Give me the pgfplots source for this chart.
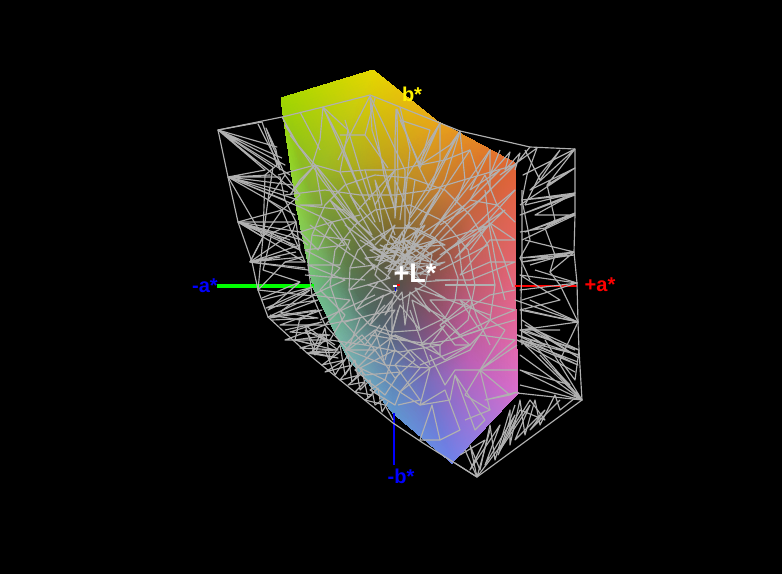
\documentclass[border=0pt]{standalone}
\usepackage{pgfplots}
\pgfplotsset{compat=1.18}
\usepackage{fontspec}
\setmainfont{Liberation Sans}
\definecolor{wire}{RGB}{176,176,176}
\pgfplotsset{w/.style={draw=wire,line width=1.15pt,no marks,line join=round,forget plot}}
\begin{document}
\begin{tikzpicture}
\begin{axis}[
 scale only axis,width=782pt,height=574pt,xmin=0,xmax=782,ymin=0,ymax=574,y dir=reverse,
 axis lines=none,clip=true]
\addplot[fill=black,draw=none,forget plot] coordinates {(0,0)(782,0)(782,574)(0,574)} -- cycle;
% solid gamut
\addplot[patch,shader=interp,mesh/color input=explicit,forget plot] table[meta=c] {
x y c
281 98 rgb255=160,215,0
373 70 rgb255=230,215,0
320 170 rgb255=150,185,35
373 70 rgb255=230,215,0
380 160 rgb255=190,165,25
320 170 rgb255=150,185,35
373 70 rgb255=230,215,0
437 121 rgb255=232,165,25
380 160 rgb255=190,165,25
437 121 rgb255=232,165,25
425 180 rgb255=195,135,40
380 160 rgb255=190,165,25
437 121 rgb255=232,165,25
515 163 rgb255=225,100,50
425 180 rgb255=195,135,40
515 163 rgb255=225,100,50
468 215 rgb255=195,100,65
425 180 rgb255=195,135,40
515 163 rgb255=225,100,50
515 270 rgb255=228,100,115
468 215 rgb255=195,100,65
515 270 rgb255=228,100,115
470 275 rgb255=190,90,100
468 215 rgb255=195,100,65
515 270 rgb255=228,100,115
517 350 rgb255=225,105,175
470 275 rgb255=190,90,100
517 350 rgb255=225,105,175
465 325 rgb255=185,90,150
470 275 rgb255=190,90,100
517 350 rgb255=225,105,175
518 393 rgb255=215,110,205
465 325 rgb255=185,90,150
518 393 rgb255=215,110,205
470 360 rgb255=190,95,180
465 325 rgb255=185,90,150
518 393 rgb255=215,110,205
452 463 rgb255=110,130,235
470 360 rgb255=190,95,180
452 463 rgb255=110,130,235
425 385 rgb255=115,110,190
470 360 rgb255=190,95,180
452 463 rgb255=110,130,235
393 413 rgb255=95,150,205
425 385 rgb255=115,110,190
393 413 rgb255=95,150,205
393 360 rgb255=95,120,165
425 385 rgb255=115,110,190
393 413 rgb255=95,150,205
347 357 rgb255=120,180,175
393 360 rgb255=95,120,165
347 357 rgb255=120,180,175
360 330 rgb255=100,145,140
393 360 rgb255=95,120,165
347 357 rgb255=120,180,175
313 287 rgb255=110,190,130
360 330 rgb255=100,145,140
313 287 rgb255=110,190,130
335 285 rgb255=100,155,115
360 330 rgb255=100,145,140
313 287 rgb255=110,190,130
297 210 rgb255=140,210,70
335 285 rgb255=100,155,115
297 210 rgb255=140,210,70
325 240 rgb255=115,160,75
335 285 rgb255=100,155,115
297 210 rgb255=140,210,70
283 115 rgb255=155,215,10
325 240 rgb255=115,160,75
283 115 rgb255=155,215,10
310 190 rgb255=135,175,50
325 240 rgb255=115,160,75
283 115 rgb255=155,215,10
281 98 rgb255=160,215,0
310 190 rgb255=135,175,50
281 98 rgb255=160,215,0
320 170 rgb255=150,185,35
310 190 rgb255=135,175,50
320 170 rgb255=150,185,35
380 160 rgb255=190,165,25
365 250 rgb255=95,105,65
380 160 rgb255=190,165,25
392 235 rgb255=120,100,50
365 250 rgb255=95,105,65
380 160 rgb255=190,165,25
425 180 rgb255=195,135,40
392 235 rgb255=120,100,50
425 180 rgb255=195,135,40
415 240 rgb255=135,100,55
392 235 rgb255=120,100,50
425 180 rgb255=195,135,40
468 215 rgb255=195,100,65
415 240 rgb255=135,100,55
468 215 rgb255=195,100,65
440 255 rgb255=145,85,65
415 240 rgb255=135,100,55
468 215 rgb255=195,100,65
470 275 rgb255=190,90,100
440 255 rgb255=145,85,65
470 275 rgb255=190,90,100
442 285 rgb255=150,80,90
440 255 rgb255=145,85,65
470 275 rgb255=190,90,100
465 325 rgb255=185,90,150
442 285 rgb255=150,80,90
465 325 rgb255=185,90,150
435 315 rgb255=140,80,110
442 285 rgb255=150,80,90
465 325 rgb255=185,90,150
470 360 rgb255=190,95,180
435 315 rgb255=140,80,110
470 360 rgb255=190,95,180
425 335 rgb255=125,85,130
435 315 rgb255=140,80,110
470 360 rgb255=190,95,180
425 385 rgb255=115,110,190
425 335 rgb255=125,85,130
425 385 rgb255=115,110,190
405 335 rgb255=100,90,125
425 335 rgb255=125,85,130
425 385 rgb255=115,110,190
393 360 rgb255=95,120,165
405 335 rgb255=100,90,125
393 360 rgb255=95,120,165
390 330 rgb255=85,95,115
405 335 rgb255=100,90,125
393 360 rgb255=95,120,165
360 330 rgb255=100,145,140
390 330 rgb255=85,95,115
360 330 rgb255=100,145,140
370 315 rgb255=80,105,100
390 330 rgb255=85,95,115
360 330 rgb255=100,145,140
335 285 rgb255=100,155,115
370 315 rgb255=80,105,100
335 285 rgb255=100,155,115
355 290 rgb255=85,115,90
370 315 rgb255=80,105,100
335 285 rgb255=100,155,115
325 240 rgb255=115,160,75
355 290 rgb255=85,115,90
325 240 rgb255=115,160,75
350 270 rgb255=90,120,75
355 290 rgb255=85,115,90
325 240 rgb255=115,160,75
310 190 rgb255=135,175,50
350 270 rgb255=90,120,75
310 190 rgb255=135,175,50
355 255 rgb255=95,115,65
350 270 rgb255=90,120,75
310 190 rgb255=135,175,50
320 170 rgb255=150,185,35
355 255 rgb255=95,115,65
320 170 rgb255=150,185,35
365 250 rgb255=95,105,65
355 255 rgb255=95,115,65
365 250 rgb255=95,105,65
392 235 rgb255=120,100,50
397 285 rgb255=85,80,75
392 235 rgb255=120,100,50
415 240 rgb255=135,100,55
397 285 rgb255=85,80,75
415 240 rgb255=135,100,55
440 255 rgb255=145,85,65
397 285 rgb255=85,80,75
440 255 rgb255=145,85,65
442 285 rgb255=150,80,90
397 285 rgb255=85,80,75
442 285 rgb255=150,80,90
435 315 rgb255=140,80,110
397 285 rgb255=85,80,75
435 315 rgb255=140,80,110
425 335 rgb255=125,85,130
397 285 rgb255=85,80,75
425 335 rgb255=125,85,130
405 335 rgb255=100,90,125
397 285 rgb255=85,80,75
405 335 rgb255=100,90,125
390 330 rgb255=85,95,115
397 285 rgb255=85,80,75
390 330 rgb255=85,95,115
370 315 rgb255=80,105,100
397 285 rgb255=85,80,75
370 315 rgb255=80,105,100
355 290 rgb255=85,115,90
397 285 rgb255=85,80,75
355 290 rgb255=85,115,90
350 270 rgb255=90,120,75
397 285 rgb255=85,80,75
350 270 rgb255=90,120,75
355 255 rgb255=95,115,65
397 285 rgb255=85,80,75
355 255 rgb255=95,115,65
365 250 rgb255=95,105,65
397 285 rgb255=85,80,75
};
% a*, b* axes
\addplot[draw=green,line width=4pt,no marks,forget plot] coordinates {(217,286)(314,286)};
\addplot[draw=red,line width=2.2pt,no marks,forget plot] coordinates {(515,286)(577,286)};
\addplot[draw=blue,line width=2.4pt,no marks,forget plot] coordinates {(394,413)(394,465)};
% outer shell
\addplot[w] coordinates {(218,130)(282,117)(323,107)(370,95)(400,107)(440,123)(460,131)(530,147)(575,149)(575,195)(575,215)(574,252)(577,283)(578,322)(579,350)(582,400)(477,477)(423,443)(393,423)(340,380)(307,353)(268,317)(258,290)(252,262)(238,222)(228,177)(218,130)};
% left wedge
\addplot[w] coordinates {(218,130)(262,122)(218,130)(277,147)(218,130)(273,167)(218,130)(265,170)(218,130)(297,193)};
\addplot[w] coordinates {(228,177)(280,177)(228,177)(300,207)(228,177)(292,185)(228,177)(270,175)(228,177)(265,170)(228,177)(263,237)(228,177)(285,200)};
\addplot[w] coordinates {(238,222)(300,232)(238,222)(272,233)(238,222)(263,237)(238,222)(282,210)(238,222)(300,250)(238,222)(290,240)};
\addplot[w] coordinates {(250,262)(303,257)(250,262)(263,237)(250,262)(280,257)(250,262)(292,233)(250,262)(308,270)};
\addplot[w] coordinates {(262,122)(270,145)(277,165)(265,175)(263,237)(250,262)};
\addplot[w] coordinates {(258,124)(266,140)(274,155)(280,170)(276,150)(266,128)(272,145)(285,175)};
\addplot[w] coordinates {(273,167)(268,200)(263,237)(258,290)(285,262)(303,257)};
\addplot[w] coordinates {(263,237)(282,210)(300,195)(285,175)(268,200)(282,210)(292,233)(308,245)};
\addplot[w] coordinates {(218,130)(285,165)(218,130)(290,175)(218,130)(282,158)};
\addplot[w] coordinates {(228,177)(295,215)(228,177)(298,200)(228,177)(288,192)};
\addplot[w] coordinates {(238,222)(296,222)(238,222)(305,262)(238,222)(295,245)(238,222)(302,240)};
\addplot[w] coordinates {(250,262)(300,245)(250,262)(305,268)(250,262)(296,252)};
\addplot[w] coordinates {(280,177)(285,200)(296,222)(292,233)(305,262)(285,262)};
\addplot[w] coordinates {(272,233)(296,222)(300,250)(272,233)(263,270)(300,282)};
\addplot[w] coordinates {(258,290)(313,296)(268,317)(316,310)(300,320)(270,315)};
\addplot[w] coordinates {(262,298)(300,282)(268,310)(310,290)(280,312)(318,318)(272,320)};
\addplot[w] coordinates {(262,300)(313,287)(266,308)(318,300)(270,318)(322,310)(280,325)(325,325)(285,340)(330,340)(300,348)(338,350)(305,325)(315,355)(325,328)(330,360)(340,345)(345,375)(355,360)(360,390)(370,380)(375,405)(385,398)};
\addplot[w] coordinates {(285,330)(322,322)(290,332)(330,335)(295,340)(335,350)(310,352)(338,358)(307,353)};
\addplot[w] coordinates {(300,318)(295,340)(315,345)(305,330)(325,340)(312,352)(320,335)(335,345)};
\addplot[w] coordinates {(307,353)(340,352)(322,365)(345,360)(325,372)(352,365)(340,380)(360,375)(348,385)(365,382)(355,392)(372,395)(365,400)(385,405)(393,420)};
\addplot[w] coordinates {(325,350)(335,375)(348,355)(352,382)(362,370)(368,398)(378,388)(382,412)(388,402)};
% top web
\addplot[w] coordinates {(323,107)(340,140)(360,190)(375,222)(362,195)(342,150)(323,107)(320,140)(312,165)};
\addplot[w] coordinates {(370,96)(372,130)(385,170)(395,210)(384,175)(370,96)(350,135)(338,160)};
\addplot[w] coordinates {(396,109)(395,140)(395,180)(395,218)(398,180)(397,109)(420,168)(440,123)(418,165)(430,190)(410,218)};
\addplot[w] coordinates {(340,135)(365,135)(375,98)(365,135)(388,168)};
\addplot[w] coordinates {(282,117)(298,145)(315,165)(335,195)(360,225)(338,192)(318,168)(300,148)(285,125)};
\addplot[w] coordinates {(290,135)(305,155)(322,180)(345,210)(375,240)};
\addplot[w] coordinates {(278,175)(315,165)(340,172)(365,170)(395,170)(420,165)(445,160)(470,150)};
\addplot[w] coordinates {(315,165)(300,180)(290,195)(315,165)(322,205)(300,205)(345,210)};
\addplot[w] coordinates {(340,172)(358,210)(395,170)(375,205)(365,170)(380,222)};
\addplot[w] coordinates {(420,165)(400,120)(430,130)(420,165)(450,145)(460,131)(435,175)(410,215)(395,180)};
\addplot[w] coordinates {(460,131)(445,180)(420,225)(470,150)(478,175)(430,235)(490,150)(490,190)(440,240)};
\addplot[w] coordinates {(285,195)(325,190)(360,195)(395,195)(430,190)(470,178)(515,165)};
\addplot[w] coordinates {(300,207)(332,222)(350,250)(332,222)(318,250)(300,232)(332,222)(360,215)};
\addplot[w] coordinates {(440,123)(440,160)(430,190)(460,131)(465,180)(455,205)};
\addplot[w] coordinates {(490,150)(470,190)(500,170)(455,215)};
\addplot[w] coordinates {(515,165)(480,200)(440,225)};
\addplot[w] coordinates {(400,107)(410,150)(405,200)};
\addplot[w] coordinates {(370,96)(405,170)(405,225)};
\addplot[w] coordinates {(440,123)(405,180)(400,220)};
\addplot[w] coordinates {(323,107)(348,130)(340,172)};
\addplot[w] coordinates {(345,120)(360,170)(370,200)};
\addplot[w] coordinates {(300,112)(320,150)};
\addplot[w] coordinates {(345,185)(325,205)(312,235)(308,265)(312,295)(325,325)(348,350)(385,365)(430,368)(470,350)(490,320)(495,285)(488,245)(470,215)(445,190)(410,178)(375,175)(345,185)};
\addplot[w] coordinates {(355,225)(335,250)(330,285)(342,320)(365,345)(400,352)(440,345)(468,320)(475,285)(468,250)(445,222)(410,205)(375,210)(355,225)};
\addplot[w] coordinates {(372,240)(358,250)(350,268)(349,290)(356,310)(370,325)(392,332)(420,330)(445,318)(455,300)(458,278)(450,255)(435,238)(415,228)(392,228)(372,240)};
% centre tangle
\addplot[w] coordinates {(375,245)(395,225)(380,262)(410,222)(388,272)(425,235)(395,270)(440,248)(405,270)(445,262)(415,275)(425,250)(405,240)(430,262)(390,250)(420,268)(380,245)(412,258)(392,262)(402,232)(412,270)(382,255)(400,250)(436,240)(418,258)(395,240)};
\addplot[w] coordinates {(380,235)(430,275)(385,268)(435,240)(395,275)(425,225)(375,260)(440,265)(390,235)(420,280)(370,250)(445,245)(405,225)(400,280)(418,228)(385,280)};
\addplot[w] coordinates {(370,270)(395,255)(365,258)(390,278)(368,285)(392,292)(375,300)(397,290)(385,315)(402,292)(405,325)(410,292)(430,312)(415,288)(445,298)(418,282)(450,280)};
\addplot[w] coordinates {(385,245)(375,275)(400,300)(425,285)(432,255)(410,240)(385,245)};
\addplot[w] coordinates {(360,240)(395,262)(345,225)(378,250)(330,200)(372,235)(350,195)(385,238)(375,180)(395,235)};
\addplot[w] coordinates {(415,180)(408,228)(440,190)(415,238)(465,205)(428,245)(490,225)(440,255)(505,210)(455,258)(515,190)};
% radial spokes
\addplot[w] coordinates {(330,200)(375,270)};
\addplot[w] coordinates {(310,225)(365,265)};
\addplot[w] coordinates {(305,275)(365,280)};
\addplot[w] coordinates {(320,320)(375,295)};
\addplot[w] coordinates {(345,345)(385,305)};
\addplot[w] coordinates {(385,360)(398,310)};
\addplot[w] coordinates {(430,365)(410,310)};
\addplot[w] coordinates {(470,345)(425,305)};
\addplot[w] coordinates {(490,315)(435,295)};
\addplot[w] coordinates {(495,285)(445,285)};
\addplot[w] coordinates {(488,245)(440,270)};
% left interior
\addplot[w] coordinates {(312,235)(350,240)(340,265)(308,265)(345,280)(312,295)(350,300)(325,325)(360,318)(348,350)(375,330)(385,365)};
\addplot[w] coordinates {(320,215)(345,245)(305,250)(340,268)(320,290)(345,315)(330,340)(365,345)(380,325)};
\addplot[w] coordinates {(350,268)(375,265)(349,290)(378,282)(356,310)(384,295)(370,325)(392,300)(392,332)(400,305)(420,330)(412,300)(445,318)};
% right interior
\addplot[w] coordinates {(485,190)(490,230)(497,270)(505,300)};
\addplot[w] coordinates {(458,240)(462,273)(477,317)(490,345)};
\addplot[w] coordinates {(490,223)(503,257)(513,287)};
\addplot[w] coordinates {(420,275)(460,240)(497,205)(515,190)(497,205)(515,222)(497,205)(470,200)(485,175)(497,205)};
\addplot[w] coordinates {(435,280)(470,280)(515,262)(490,262)(460,275)(490,240)(515,240)(490,223)(470,250)};
\addplot[w] coordinates {(515,290)(490,295)(440,325)(470,300)(515,310)(490,320)(460,335)(430,300)(470,300)};
% bottom right
\addplot[w] coordinates {(420,345)(450,340)(480,330)(515,320)};
\addplot[w] coordinates {(420,365)(470,345)(480,335)(515,340)(480,370)(517,345)};
\addplot[w] coordinates {(480,370)(510,395)(517,392)(485,400)(510,395)(480,370)(490,410)};
\addplot[w] coordinates {(455,375)(485,420)(475,430)(455,375)(450,400)(420,405)(445,390)(460,430)(440,440)(420,440)(432,405)(440,440)};
\addplot[w] coordinates {(430,355)(445,385)(455,370)(480,370)(465,395)(490,410)(465,420)};
\addplot[w] coordinates {(440,325)(455,345)(470,345)(445,360)(430,345)(445,325)(420,345)(395,335)};
\addplot[w] coordinates {(430,368)(420,405)(400,392)(430,368)(410,350)(395,365)(420,400)(398,405)};
\addplot[w] coordinates {(517,370)(480,370)(505,330)(490,320)(460,300)(480,330)(450,340)};
% bottom centre
\addplot[w] coordinates {(345,322)(370,315)(395,310)(385,325)(365,355)(385,325)(395,350)(385,380)(400,392)(420,368)(395,350)(360,368)(385,380)(370,390)(395,405)(400,392)};
\addplot[w] coordinates {(345,350)(375,350)(362,335)(345,350)(365,375)(400,372)(385,395)(355,370)(375,350)(395,378)(415,360)(395,335)(375,350)};
\addplot[w] coordinates {(375,330)(420,345)(440,355)(440,345)(400,340)(370,335)};
% right wedge
\addplot[w] coordinates {(575,149)(523,175)(575,149)(530,190)(575,149)(547,185)(575,168)(530,190)(575,168)(520,205)};
\addplot[w] coordinates {(530,147)(515,165)(500,175)(537,148)(527,175)(522,200)(530,240)(520,258)(530,280)};
\addplot[w] coordinates {(522,190)(522,260)(521,300)(522,345)};
\addplot[w] coordinates {(500,150)(490,175)(510,152)(505,170)(520,153)(515,170)};
\addplot[w] coordinates {(575,195)(522,200)(575,193)(535,215)(575,215)(525,232)(575,213)(545,228)(520,232)};
\addplot[w] coordinates {(574,252)(520,258)(574,255)(522,262)(574,252)(550,272)(574,252)(525,240)};
\addplot[w] coordinates {(575,195)(520,215)(575,193)(525,205)};
\addplot[w] coordinates {(575,215)(522,240)};
\addplot[w] coordinates {(574,252)(530,265)};
\addplot[w] coordinates {(577,283)(522,300)(577,283)(535,270)};
\addplot[w] coordinates {(525,150)(540,180)(560,150)(540,175)(525,205)};
\addplot[w] coordinates {(547,185)(555,220)(545,228)(555,255)(550,272)(560,285)(578,322)};
\addplot[w] coordinates {(577,283)(520,290)(577,283)(520,275)(560,300)(520,310)(578,322)(515,300)(578,322)(520,330)(560,330)};
\addplot[w] coordinates {(578,322)(530,300)(578,322)(525,310)};
\addplot[w] coordinates {(579,350)(525,325)(579,358)(522,320)};
\addplot[w] coordinates {(517,335)(578,365)(517,340)(575,372)};
\addplot[w] coordinates {(525,330)(575,350)};
\addplot[w] coordinates {(579,350)(520,330)(545,345)(517,335)(579,355)(520,340)(578,362)};
\addplot[w] coordinates {(582,400)(520,355)(582,400)(517,393)(582,400)(540,355)(582,400)(555,370)(570,385)(520,370)(582,400)};
\addplot[w] coordinates {(582,400)(525,345)(582,400)(530,340)(582,400)(545,340)(582,400)(520,385)};
\addplot[w] coordinates {(578,322)(560,360)(575,380)(579,350)};
% bottom wedge
\addplot[w] coordinates {(455,463)(477,477)(470,445)(480,470)(490,425)(495,460)(510,410)(510,445)(520,400)(525,435)(535,400)(540,425)(555,395)(560,410)(575,398)};
\addplot[w] coordinates {(477,477)(465,450)(477,477)(490,430)(477,477)(505,440)(530,400)(545,420)(520,410)(498,455)(515,405)};
\addplot[w] coordinates {(460,455)(485,440)(470,470)(500,425)(485,465)(515,415)(500,450)(530,405)(515,440)(545,410)(530,430)(560,400)};
% labels
\node[text=white,font=\bfseries\fontsize{27}{27}\selectfont,anchor=center] at (axis cs:415,273) {+L*};
\node[text=yellow,font=\bfseries\fontsize{20}{20}\selectfont,anchor=center] at (axis cs:412,94) {b*};
\node[text=blue,font=\bfseries\fontsize{20}{20}\selectfont,anchor=center] at (axis cs:205,286) {-a*};
\node[text=red,font=\bfseries\fontsize{20}{20}\selectfont,anchor=center] at (axis cs:600,285) {+a*};
\node[text=blue,font=\bfseries\fontsize{20}{20}\selectfont,anchor=center] at (axis cs:401,476) {-b*};
% centre marks
\addplot[draw=white,line width=2.5pt,no marks,forget plot] coordinates {(393,286)(397,286)};
\addplot[draw=red,line width=2.5pt,no marks,forget plot] coordinates {(397,285)(400,285)};
\addplot[draw=blue,line width=1.8pt,no marks,forget plot] coordinates {(395.5,287)(395.5,291)};
\end{axis}
\end{tikzpicture}
\end{document}
